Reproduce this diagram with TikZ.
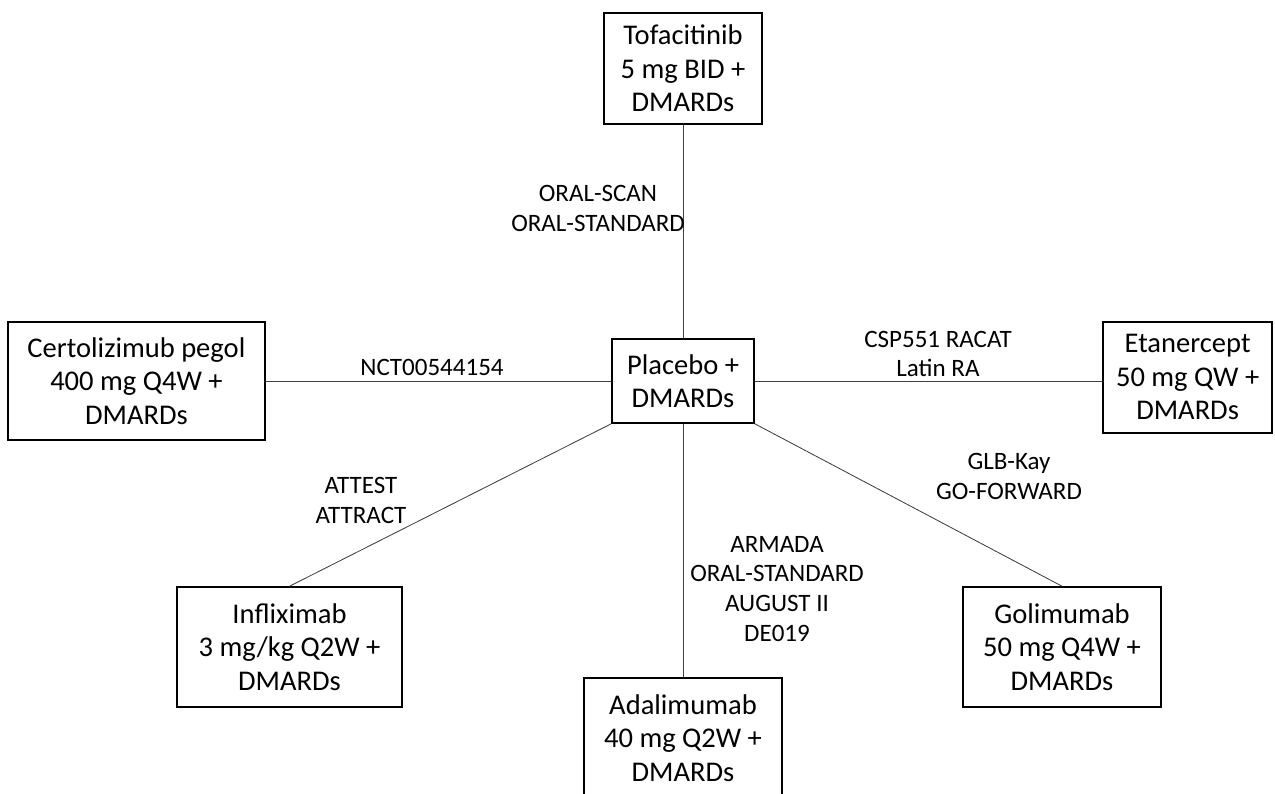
\documentclass[tikz,border=0pt]{standalone}
\usepackage{fontspec}
\setmainfont{Carlito}
\usepackage{tikz}
\usetikzlibrary{positioning, calc}

\tikzset{
  drugbox/.style={draw, line width=1.1pt, align=center, inner sep=0pt,
    font=\fontsize{20.3}{23.8}\selectfont},
  trialtext/.style={align=center, inner sep=0pt,
    font=\fontsize{17.8}{21.3}\selectfont},
  link/.style={line width=0.6pt, black!75}
}

\begin{document}
\begin{tikzpicture}
        % Fix the frame
        \clip (0,0) rectangle (31.875,19.825);

        % Draw treatment boxes
        \node[drugbox, minimum width=3.55cm, minimum height=2.1cm] (placebo) at (17.075,10.3) {Placebo +\\DMARDs};
        \node[drugbox, minimum width=3.95cm, minimum height=2.775cm] (tofa) at (17.075,18.11) {Tofacitinib\\5 mg BID +\\DMARDs};
        \node[drugbox, minimum width=6.425cm, minimum height=2.95cm] (certo) at (3.41,10.3) {Certolizimub pegol\\400 mg Q4W +\\DMARDs};
        \node[drugbox, minimum width=4.225cm, minimum height=2.775cm] (etan) at (29.69,10.39) {Etanercept\\50 mg QW +\\DMARDs};
        \node[drugbox, minimum width=5.625cm, minimum height=3.0cm] (inflix) at (7.2375,3.65) {Infliximab\\3 mg/kg Q2W +\\DMARDs};
        \node[drugbox, minimum width=4.95cm, minimum height=3.0cm] (adal) at (17.075,1.375) {Adalimumab\\40 mg Q2W +\\DMARDs};
        \node[drugbox, minimum width=4.95cm, minimum height=3.0cm] (goli) at (26.55,3.65) {Golimumab\\50 mg Q4W +\\DMARDs};

        % Draw links
        \draw[link] (placebo.north) -- (tofa.south);
        \draw[link] (placebo.west) -- (certo.east);
        \draw[link] (placebo.east) -- (placebo.east -| etan.west);
        \draw[link] (placebo.south west) -- (inflix.north);
        \draw[link] (placebo.south) -- (adal.north);
        \draw[link] (placebo.south east) -- (goli.north);

        % Add trial labels
        \node[trialtext] (oral) at (14.95,14.625) {ORAL-SCAN\\ORAL-STANDARD};
        \node[trialtext] (nct) at (10.8,10.65) {NCT00544154};
        \node[trialtext] (csp) at (23.45,10.975) {CSP551 RACAT\\Latin RA};
        \node[trialtext] (attest) at (9.025,7.325) {ATTEST\\ATTRACT};
        \node[trialtext] (armada) at (19.425,5.1) {ARMADA\\ORAL-STANDARD\\AUGUST II\\DE019};
        \node[trialtext] (glb) at (25.225,7.925) {GLB-Kay\\GO-FORWARD};
    \end{tikzpicture}
\end{document}
